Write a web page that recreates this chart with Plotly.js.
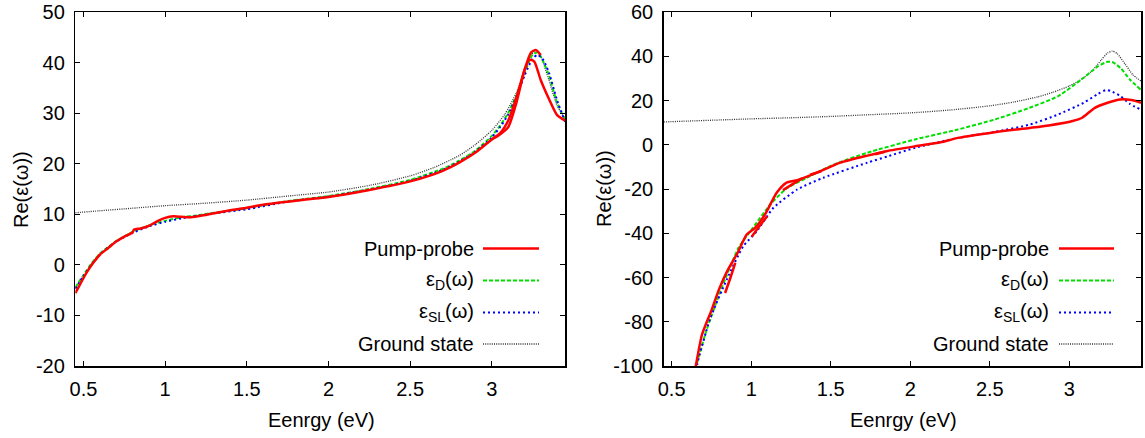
<!DOCTYPE html>
<html>
<head>
<meta charset="utf-8">
<script src="https://cdn.plot.ly/plotly-3.0.1.min.js"></script>
<style>html,body{margin:0;padding:0;background:#fff;}#chart{width:1145px;height:438px;}</style>
</head>
<body>
<div id="chart"></div>
<script>
// ---- Ground state (same in both panels) ----
const gsX = [0.45,0.6,0.8,1.0,1.25,1.5,1.75,2.0,2.25,2.5,2.65,2.8,2.9,3.0,3.08,3.15,3.2,3.24,3.27,3.3,3.35,3.4,3.45];
const gsY = [10.3,10.7,11.2,11.7,12.2,12.8,13.6,14.4,15.7,17.6,19.3,21.6,23.8,26.6,29.8,34.0,38.3,41.5,42.3,41.2,36.5,31.5,28.8];

// ---- Left panel ----
const leftPPX = [0.45,0.48,0.52,0.56,0.6,0.65,0.7,0.75,0.8,0.81,0.85,0.9,0.95,1.0,1.05,1.1,1.15,1.2,1.3,1.4,1.5,1.6,1.75,2.0,2.25,2.5,2.7,2.8,2.9,3.0,3.05,3.1,3.15,3.2,3.23,3.26,3.3,3.35,3.4,3.45];
const leftPPY = [-5.6,-3.8,-1.5,0.4,2.0,3.3,4.6,5.6,6.4,7.0,7.2,7.7,8.6,9.3,9.6,9.5,9.4,9.6,10.2,10.8,11.3,11.9,12.5,13.4,14.8,16.5,18.6,20.2,22.2,24.8,26.0,28.5,33.0,38.5,40.6,40.2,36.5,32.8,29.6,28.5];
const leftPP2X = [3.0,3.05,3.1,3.15,3.2,3.24,3.27,3.3];
const leftPP2Y = [24.8,25.8,27.2,32.0,38.5,42.0,42.5,41.5];
const leftDX = [0.45,0.5,0.55,0.6,0.65,0.7,0.8,0.9,1.0,1.1,1.2,1.3,1.5,1.75,2.0,2.25,2.5,2.7,2.8,2.9,3.0,3.05,3.1,3.15,3.2,3.25,3.28,3.3,3.35,3.4,3.45];
const leftDY = [-4.5,-2.0,0.3,2.2,3.5,4.7,6.5,7.8,8.7,9.4,9.8,10.3,11.2,12.6,13.6,15.0,16.8,19.0,20.6,22.6,25.5,27.5,30.0,33.5,37.8,41.6,42.0,41.2,37.5,32.0,28.6];
const leftSLX = [0.45,0.5,0.55,0.6,0.65,0.7,0.8,0.9,1.0,1.1,1.2,1.3,1.5,1.75,2.0,2.25,2.5,2.7,2.8,2.9,3.0,3.05,3.1,3.15,3.2,3.25,3.28,3.31,3.35,3.4,3.45];
const leftSLY = [-4.7,-2.2,0.1,2.0,3.4,4.6,6.3,7.6,8.5,9.2,9.7,10.2,11.0,12.5,13.5,14.9,16.6,18.8,20.4,22.4,25.2,27.2,29.7,33.2,37.4,40.8,41.5,40.8,38.0,32.5,28.2];

// ---- Right panel ----
const rightPPX = [0.64,0.653,0.69,0.752,0.8,0.85,0.909,0.972,1.024,1.087,1.16,1.22,1.29,1.41,1.56,1.73,1.85,2.03,2.19,2.3,2.53,2.75,2.87,3.02,3.08,3.16,3.24,3.32,3.39,3.45];
const rightPPY = [-104,-99.4,-86,-74.5,-65,-57,-49.6,-40.6,-37.6,-31.5,-21.7,-17.2,-16.0,-12.7,-8.1,-4.9,-2.9,-0.7,1.1,3.1,5.7,7.6,8.7,10.7,12.2,16.7,19.0,20.5,20.2,19.0];
const rightPPsegX = [0.836,0.87,0.90,null,1.003,1.05,1.10,null,1.20,1.26,1.32,null,1.37,1.44,null,1.78,1.84];
const rightPPsegY = [-67,-60,-53.4,null,-41.6,-37,-32.3,null,-20.5,-17.8,-15.2,null,-13.5,-12.0,null,-4.3,-3.2];
const rightDX = [0.645,0.657,0.72,0.815,0.92,1.01,1.12,1.22,1.35,1.52,1.73,2.03,2.3,2.53,2.75,2.93,3.09,3.18,3.24,3.27,3.32,3.38,3.45];
const rightDY = [-104,-99.5,-83.6,-64.7,-46.6,-37.6,-27,-19.9,-14.9,-8.9,-3.6,2.4,6.9,11.4,16.7,22.0,30.3,35.5,37.5,37.4,34.8,29.5,24.8];
const rightSLX = [0.652,0.66,0.74,0.846,0.95,1.035,1.14,1.29,1.454,1.73,1.86,2.03,2.3,2.53,2.75,2.93,3.09,3.18,3.23,3.26,3.32,3.38,3.45];
const rightSLY = [-104,-99.5,-79,-61,-45.9,-39.1,-28.5,-20.2,-14.9,-8.1,-5.2,-1.4,3.1,5.8,9.1,13.7,19.0,23.0,24.7,24.3,22.0,18.5,15.8];

// ---- Tick labels ----
const xTickVals = [0.5,1,1.5,2,2.5,3];
const xTickText = ['0.5','1','1.5','2','2.5','3'];
const leftYTickVals = [-20,-10,0,10,20,30,40,50];
const leftYTickText = ['-20','-10','0','10','20','30','40','50'];
const rightYTickVals = [-100,-80,-60,-40,-20,0,20,40,60];
const rightYTickText = ['-100','-80','-60','-40','-20','0','20','40','60'];

// ---- Text ----
const legendNames = ['Pump-probe','ε<sub>D</sub>(ω)','ε<sub>SL</sub>(ω)','Ground state'];
const xTitle = 'Eenrgy (eV)';
const yTitle = 'Re(ε(ω))';

const RED='#ff0000', GREEN='#00e000', BLUE='#0000ff', BLACK='#333333';
const styles = [
  {color:RED,width:2.5,dash:'solid'},
  {color:GREEN,width:2,dash:'4px,2px'},
  {color:BLUE,width:2,dash:'2px,3px'},
  {color:BLACK,width:1.3,dash:'1px,1.2px'}
];

function tr(x,y,st,xa,ya){
  return {x:x,y:y,type:'scatter',mode:'lines',xaxis:xa,yaxis:ya,showlegend:false,hoverinfo:'skip',connectgaps:false,
    line:{color:st.color,width:st.width,dash:st.dash,shape:'spline',smoothing:0.6}};
}

const data = [
  tr(gsX,gsY,styles[3],'x','y'),
  tr(leftDX,leftDY,styles[1],'x','y'),
  tr(leftSLX,leftSLY,styles[2],'x','y'),
  tr(leftPPX,leftPPY,styles[0],'x','y'),
  tr(leftPP2X,leftPP2Y,styles[0],'x','y'),
  tr(gsX,gsY,styles[3],'x2','y2'),
  tr(rightDX,rightDY,styles[1],'x2','y2'),
  tr(rightSLX,rightSLY,styles[2],'x2','y2'),
  tr(rightPPX,rightPPY,styles[0],'x2','y2'),
  tr(rightPPsegX,rightPPsegY,styles[0],'x2','y2')
];

const FONT = {family:'Liberation Sans, Arial, sans-serif', size:20, color:'#000'};

function xax(domain, anchor){
  return {domain:domain, anchor:anchor, range:[0.45,3.45], tickmode:'array', tickvals:xTickVals, ticktext:xTickText,
    ticks:'inside', ticklen:5, tickwidth:1, tickcolor:'#000', showline:true, linewidth:1.5, linecolor:'#000', mirror:'allticks',
    showgrid:false, zeroline:false, tickfont:FONT, ticklabelstandoff:4};
}
function yax(domain, anchor, range, vals, text){
  return {domain:domain, anchor:anchor, range:range, tickmode:'array', tickvals:vals, ticktext:text,
    ticks:'inside', ticklen:5, tickwidth:1, tickcolor:'#000', showline:true, linewidth:1.5, linecolor:'#000', mirror:'allticks',
    showgrid:false, zeroline:false, tickfont:FONT, ticklabelstandoff:5};
}

const W=1145, H=438;
const yDom = [1-366/H, 1-12/H];
const leftDom = [75.3/W, 565.3/W];
const rightDom = [663.7/W, 1141/W];

const annotations = [], shapes = [];
// axis titles
[[321, 21],[903, 604]].forEach(function(p){
  annotations.push({xref:'paper', yref:'paper', x:p[0]/W, y:1-420/H, text:xTitle, showarrow:false,
    xanchor:'center', yanchor:'middle', font:FONT});
  annotations.push({xref:'paper', yref:'paper', x:p[1]/W, y:1-189/H, text:yTitle, showarrow:false, textangle:-90,
    xanchor:'center', yanchor:'middle', font:FONT});
});
// custom legend (text, then line sample on its right)
const legendRowsY = [248.5, 280.5, 312.5, 344];
[[476, 483, 539],[1051, 1059, 1114]].forEach(function(p){
  legendNames.forEach(function(name,i){
    annotations.push({xref:'paper', yref:'paper', x:p[0]/W, y:1-legendRowsY[i]/H, text:name, showarrow:false,
      xanchor:'right', yanchor:'middle', font:FONT});
    shapes.push({type:'line', xref:'paper', yref:'paper', x0:p[1]/W, x1:p[2]/W, y0:1-legendRowsY[i]/H, y1:1-legendRowsY[i]/H,
      line:{color:styles[i].color, width:styles[i].width, dash:styles[i].dash}});
  });
});

const layout = {
  width:W, height:H, margin:{l:0,r:0,t:0,b:0}, paper_bgcolor:'#fff', plot_bgcolor:'#fff',
  font:FONT, showlegend:false,
  xaxis: xax(leftDom,'y'),
  yaxis: yax(yDom,'x',[-20,50],leftYTickVals,leftYTickText),
  xaxis2: xax(rightDom,'y2'),
  yaxis2: yax(yDom,'x2',[-100,60],rightYTickVals,rightYTickText),
  annotations: annotations,
  shapes: shapes
};

Plotly.newPlot('chart', data, layout, {staticPlot:true, displayModeBar:false});
</script>
</body>
</html>
